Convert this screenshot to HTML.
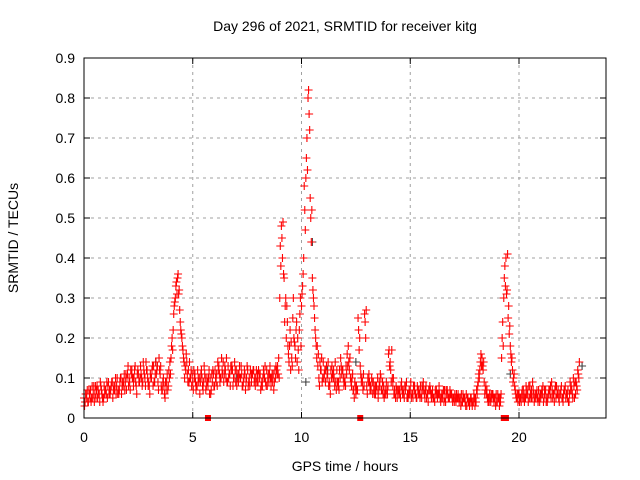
<!DOCTYPE html>
<html><head><meta charset="utf-8"><style>
body{margin:0;background:#fff;}
svg{display:block;font-family:"Liberation Sans",sans-serif;}
</style></head><body>
<svg id="chart" width="640" height="480" xmlns="http://www.w3.org/2000/svg">
<rect width="640" height="480" fill="#fff"/>
<g id="grid"></g>
<g id="marks"></g>
<rect x="84" y="58" width="522" height="360" fill="none" stroke="#000" stroke-width="1"/>
<g id="ticks"></g>
<text x="345" y="31" text-anchor="middle" font-size="14">Day 296 of 2021, SRMTID for receiver kitg</text>
<text x="345" y="471" text-anchor="middle" font-size="14">GPS time / hours</text>
<text transform="translate(18,238) rotate(-90)" text-anchor="middle" font-size="14">SRMTID / TECUs</text>
</svg>
<script>
const xTicks=[0,5,10,15,20];
const yTicks=[0,0.1,0.2,0.3,0.4,0.5,0.6,0.7,0.8,0.9];
const yTickLabels=["0","0.1","0.2","0.3","0.4","0.5","0.6","0.7","0.8","0.9"];
const seriesA=[.05,.06,.04,.07,.05,.06,.08,.06,.07,.05,
.07,.08,.06,.09,.07,.08,.06,.10,.08,.09,
.11,.09,.12,.10,.08,.11,.13,.09,.10,.12,
.08,.10,.13,.14,.09,.11,.07,.06,.09,.12,
.15,.22,.30,.35,.27,.20,.14,.16,.12,.10,
.09,.11,.08,.10,.12,.09,.07,.08,.10,.09,
.08,.11,.13,.10,.14,.12,.09,.11,.13,.10,
.12,.09,.10,.08,.11,.13,.10,.09,.12,.10,
.09,.11,.08,.10,.12,.09,.08,.11,.10,.13,
.30,.45,.35,.20,.16,.12,.25,.18,.14,.22,
.28,.40,.60,.80,.55,.35,.25,.15,.10,.12,
.14,.09,.11,.08,.13,.10,.07,.09,.15,.12,
.10,.16,.12,.08,.07,.06,.25,.13,.09,.26,
.08,.11,.07,.09,.06,.10,.08,.07,.05,.09,
.16,.12,.08,.06,.05,.07,.09,.06,.08,.05,
.07,.06,.08,.05,.07,.06,.09,.07,.06,.08,
.06,.05,.07,.06,.04,.06,.05,.07,.05,.06,
.05,.04,.06,.05,.04,.05,.03,.04,.05,.04,
.05,.08,.12,.15,.09,.06,.05,.04,.06,.05,
.04,.03,.15,.30,.40,.25,.18,.12,.08,.05,
.06,.04,.07,.05,.06,.08,.05,.04,.06,.07,
.05,.08,.06,.04,.07,.09,.06,.05,.07,.06,
.05,.07,.06,.04,.08,.10,.06,.12];
const seriesB=[.04,.07,.06,.05,.08,.05,.07,.09,.05,.06,
.09,.06,.08,.07,.10,.06,.09,.08,.11,.07,
.08,.12,.10,.13,.11,.09,.10,.12,.14,.08,
.11,.13,.09,.12,.15,.08,.10,.09,.07,.14,
.20,.28,.34,.31,.22,.17,.13,.11,.14,.08,
.12,.07,.10,.09,.08,.11,.10,.12,.07,.11,
.10,.14,.09,.12,.11,.15,.10,.13,.08,.12,
.10,.13,.11,.10,.09,.08,.12,.11,.10,.09,
.11,.08,.12,.09,.10,.13,.11,.09,.12,.15,
.38,.49,.28,.24,.18,.15,.20,.22,.17,.30,
.33,.52,.70,.76,.44,.30,.20,.13,.14,.09,
.11,.13,.08,.12,.10,.14,.09,.12,.11,.08,
.13,.18,.10,.11,.09,.07,.17,.09,.11,.20,
.10,.07,.09,.06,.08,.07,.10,.06,.07,.06,
.13,.17,.06,.08,.07,.05,.06,.08,.05,.07,
.05,.08,.06,.07,.05,.08,.06,.05,.07,.06,
.05,.07,.05,.06,.06,.04,.07,.05,.06,.04,
.06,.05,.04,.06,.05,.03,.05,.04,.03,.05,
.07,.11,.16,.12,.07,.05,.06,.05,.04,.06,
.05,.04,.24,.38,.32,.21,.14,.10,.06,.04,
.05,.07,.04,.06,.08,.05,.07,.06,.05,.04,
.07,.05,.04,.06,.08,.05,.07,.06,.04,.08,
.06,.05,.07,.09,.06,.05,.08,.10];
const seriesC=[.03,.05,.07,.04,.06,.08,.05,.04,.06,.08,
.06,.09,.07,.05,.08,.10,.07,.06,.09,.11,
.13,.07,.10,.12,.06,.09,.11,.14,.08,.10,
.06,.12,.09,.11,.07,.13,.09,.05,.11,.10,
.18,.26,.33,.36,.24,.18,.10,.14,.09,.12,
.07,.09,.12,.06,.10,.13,.08,.10,.06,.12,
.12,.08,.11,.15,.09,.10,.13,.08,.12,.14,
.08,.11,.13,.09,.07,.12,.08,.11,.09,.12,
.12,.07,.10,.13,.08,.11,.10,.07,.13,.11,
.43,.40,.24,.28,.14,.19,.30,.15,.20,.26,
.31,.58,.65,.82,.50,.32,.22,.18,.08,.15,
.10,.12,.14,.06,.11,.08,.12,.07,.13,.10,
.08,.13,.15,.10,.05,.08,.22,.11,.07,.24,
.06,.09,.10,.07,.08,.05,.11,.09,.06,.07,
.17,.09,.10,.05,.07,.06,.07,.05,.09,.06,
.09,.05,.06,.08,.06,.05,.07,.08,.04,.07,
.07,.04,.06,.08,.05,.07,.04,.06,.07,.05,
.04,.06,.05,.03,.06,.04,.05,.03,.04,.06,
.04,.09,.14,.13,.06,.07,.04,.06,.05,.03,
.06,.05,.20,.35,.31,.28,.16,.09,.07,.06,
.04,.06,.05,.08,.04,.06,.09,.05,.07,.05,
.06,.04,.07,.05,.06,.07,.04,.08,.05,.07,
.04,.08,.05,.06,.07,.08,.09,.11];
const seriesD=[.06,.04,.05,.08,.04,.07,.06,.08,.04,.07,
.05,.07,.09,.08,.06,.07,.10,.09,.07,.10,
.10,.11,.08,.09,.12,.10,.08,.11,.12,.09,
.10,.08,.11,.13,.12,.07,.08,.07,.08,.11,
.17,.29,.31,.32,.21,.15,.12,.09,.10,.11,
.10,.08,.09,.11,.07,.10,.09,.06,.11,.08,
.09,.12,.10,.11,.13,.09,.11,.12,.10,.09,
.11,.10,.08,.12,.10,.09,.11,.12,.08,.11,
.10,.09,.11,.08,.11,.10,.09,.12,.11,.10,
.48,.36,.30,.18,.22,.13,.19,.24,.12,.18,
.36,.47,.62,.72,.52,.28,.18,.16,.12,.10,
.12,.10,.09,.10,.12,.09,.08,.10,.12,.09,
.11,.14,.09,.07,.08,.07,.20,.10,.08,.27,
.09,.08,.06,.08,.07,.09,.07,.08,.06,.08,
.14,.10,.07,.07,.06,.08,.07,.07,.06,.06,
.06,.07,.05,.06,.08,.07,.05,.06,.07,.05,
.05,.06,.06,.05,.05,.07,.06,.05,.06,.05,
.05,.05,.05,.04,.05,.06,.04,.05,.04,.03,
.06,.10,.13,.14,.08,.04,.05,.06,.05,.04,
.05,.06,.18,.33,.41,.23,.15,.11,.05,.06,
.05,.05,.06,.07,.05,.07,.06,.05,.04,.06,
.06,.07,.05,.07,.05,.06,.08,.06,.06,.05,
.07,.06,.04,.07,.05,.09,.07,.14];
const grayTimes=[3.3,7.0,10.2,10.5,11.2,12.5,19.6,21.0,22.9];
const grayValues=[.14,.10,.09,.44,.12,.14,.11,.06,.13];
const zeroTimes=[5.7,12.7,19.3,19.4];
const stepHours=0.1;
const X0=84,X1=606,Y0=418,Y1=58,XMAX=24,YMAX=0.9;
function sx(t){return X0+(X1-X0)*t/XMAX;}
function sy(v){return Y0-(Y0-Y1)*v/YMAX;}
const NS="http://www.w3.org/2000/svg";
const grid=document.getElementById('grid'),ticks=document.getElementById('ticks'),marks=document.getElementById('marks');
function mk(tag,attrs,parent){const e=document.createElementNS(NS,tag);for(const k in attrs)e.setAttribute(k,attrs[k]);parent.appendChild(e);return e;}
yTicks.forEach((v,i)=>{
  const y=sy(v);
  if(i>0&&i<yTicks.length-1){const g=mk('line',{x1:X0,x2:X1,y1:y,y2:y,stroke:'#a0a0a0','stroke-dasharray':'3,4'},grid);
  
  }
  const t=mk('line',{x1:X0,x2:X0+6,y1:y,y2:y,stroke:'#000'},ticks);
  
  
  const t2=mk('line',{x1:X1-6,x2:X1,y1:y,y2:y,stroke:'#000'},ticks);
  
  
  const l=mk('text',{x:X0-9,y:y+5,'text-anchor':'end','font-size':'14'},ticks);l.textContent=yTickLabels[i];
  
  
});
xTicks.forEach(v=>{
  const x=sx(v);
  if(v>0){const g=mk('line',{x1:x,x2:x,y1:Y1,y2:Y0,stroke:'#a0a0a0','stroke-dasharray':'3,4'},grid);
  
  }
  const t=mk('line',{x1:x,x2:x,y1:Y0,y2:Y0-6,stroke:'#000'},ticks);
  
  
  const t2=mk('line',{x1:x,x2:x,y1:Y1,y2:Y1+6,stroke:'#000'},ticks);
  
  
  const l=mk('text',{x:x,y:Y0+24,'text-anchor':'middle','font-size':'14'},ticks);l.textContent=String(v);
  
  
});
function plus(t,v,color){
  const x=sx(t),y=sy(v);
  const p=mk('path',{d:`M${x-4},${y}h8M${x},${y-4}v8`,stroke:color,'stroke-width':'1.1',fill:'none'},marks);
  
  
}
grayTimes.forEach((t,i)=>plus(t,grayValues[i],'#404040'));
seriesA.forEach((v,i)=>plus(i*stepHours,v,'#ff0000'));
seriesB.forEach((v,i)=>plus(i*stepHours+0.05,v,'#ff0000'));
seriesC.forEach((v,i)=>plus(i*stepHours+0.025,v,'#ff0000'));
seriesD.forEach((v,i)=>plus(i*stepHours+0.075,v,'#ff0000'));
zeroTimes.forEach(t=>{
  const r=mk('rect',{x:sx(t)-3,y:Y0-3,width:6,height:6,fill:'#ff0000'},marks);
  
  
});
</script>
</body></html>
